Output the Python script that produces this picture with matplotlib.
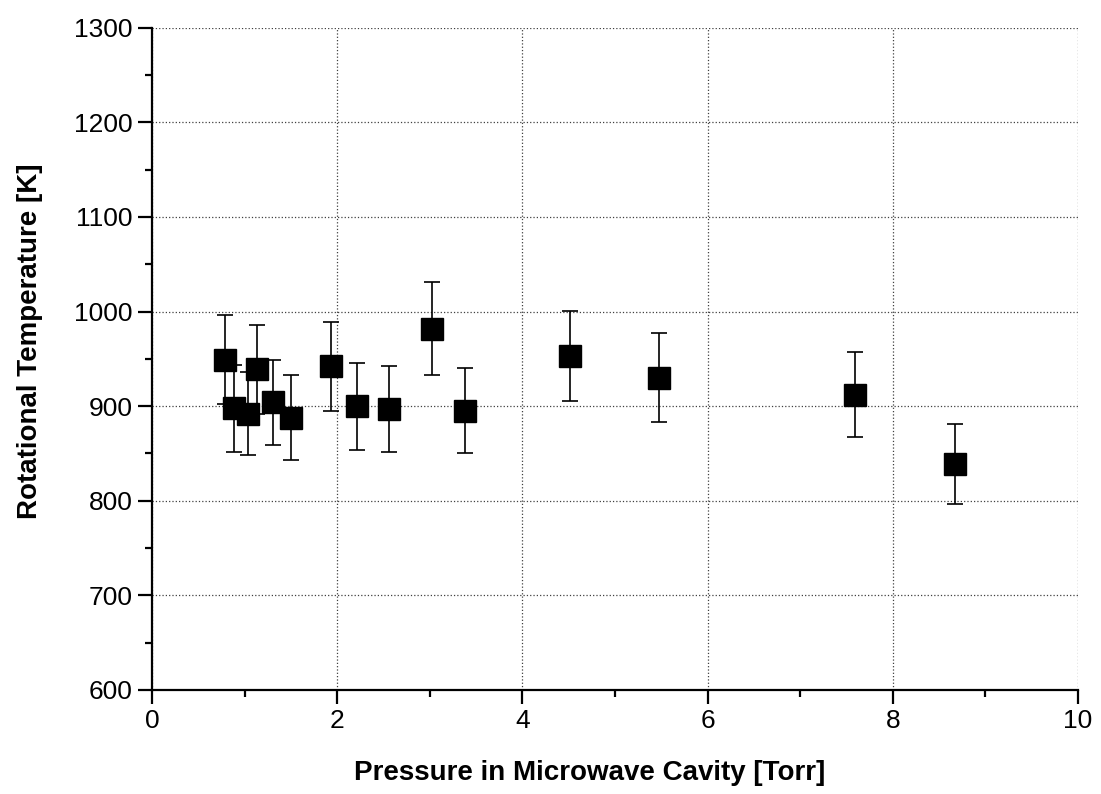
import matplotlib
matplotlib.use("Agg")
import matplotlib.pyplot as plt
from matplotlib.ticker import MultipleLocator

plt.rcParams['font.family'] = ['Liberation Sans', 'DejaVu Sans']

pressure = [0.79, 0.89, 1.04, 1.14, 1.31, 1.50, 1.93, 2.21, 2.56, 3.03, 3.38, 4.52, 5.48, 7.59, 8.67]
temperature = [949, 898, 892, 939, 904, 888, 942, 900, 897, 982, 895, 953, 930, 912, 839]
error = [47, 46, 44, 47, 45, 45, 47, 46, 45, 49, 45, 48, 47, 45, 42]

x_label = "Pressure in Microwave Cavity [Torr]"
y_label = "Rotational Temperature [K]"

fig = plt.figure(figsize=(11.01, 7.94), dpi=100)
ax = fig.add_axes([0.138, 0.131, 0.841, 0.834])

ax.errorbar(pressure, temperature, yerr=error, fmt='s', color='black',
            markersize=16, ecolor='black', elinewidth=1.2, capsize=6,
            capthick=1.2, zorder=3)

ax.set_xlim(0, 10)
ax.set_ylim(600, 1300)
ax.xaxis.set_major_locator(MultipleLocator(2))
ax.xaxis.set_minor_locator(MultipleLocator(1))
ax.yaxis.set_major_locator(MultipleLocator(100))
ax.yaxis.set_minor_locator(MultipleLocator(50))

ax.grid(True, which='major', linestyle=':', linewidth=0.9, color='0.25')
ax.spines['top'].set_visible(False)
ax.spines['right'].set_visible(False)
for s in ['left', 'bottom']:
    ax.spines[s].set_linewidth(1.6)

ax.tick_params(which='major', direction='out', length=10, width=1.6,
               labelsize=19, pad=4)
ax.tick_params(which='minor', direction='out', length=5, width=1.6)

ax.set_xlabel(x_label, fontsize=20, fontweight='bold')
ax.set_ylabel(y_label, fontsize=20, fontweight='bold')
ax.xaxis.set_label_coords(0.473, -0.105)
ax.yaxis.set_label_coords(-0.118, 0.526)

fig.savefig("out.png", dpi=100)
